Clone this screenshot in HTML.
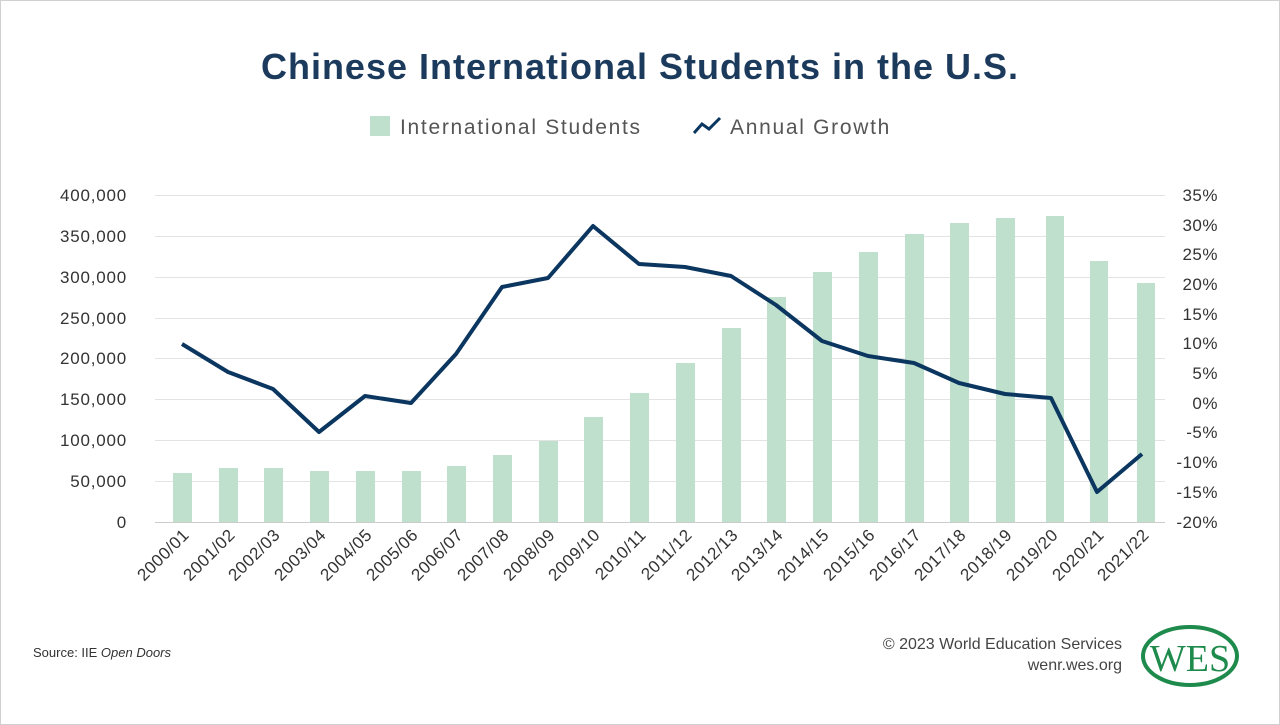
<!DOCTYPE html>
<html><head><meta charset="utf-8"><style>
body{margin:0;background:#fff;}
svg{display:block;font-family:"Liberation Sans",sans-serif;}
</style></head><body>
<svg width="1280" height="725" viewBox="0 0 1280 725">
<rect x="0.5" y="0.5" width="1279" height="724" fill="#fff" stroke="#d0d0d0"/>
<text x="640" y="79" text-anchor="middle" font-size="36" font-weight="bold" fill="#1b3a5c" letter-spacing="1">Chinese International Students in the U.S.</text>
<rect x="370" y="116" width="20" height="20" fill="#bfe0cc"/>
<text x="400" y="134" font-size="21" fill="#555" letter-spacing="1.7">International Students</text>
<polyline points="694,133 702,124 709,129 720,118" fill="none" stroke="#0b3660" stroke-width="3"/>
<text x="730" y="134" font-size="21" fill="#555" letter-spacing="1.7">Annual Growth</text>
<g stroke="#e3e3e3" stroke-width="1">
<line x1="155" x2="1165" y1="195.5" y2="195.5"/><line x1="155" x2="1165" y1="236.5" y2="236.5"/>
<line x1="155" x2="1165" y1="277.5" y2="277.5"/><line x1="155" x2="1165" y1="318.5" y2="318.5"/>
<line x1="155" x2="1165" y1="358.5" y2="358.5"/><line x1="155" x2="1165" y1="399.5" y2="399.5"/>
<line x1="155" x2="1165" y1="440.5" y2="440.5"/><line x1="155" x2="1165" y1="481.5" y2="481.5"/>
<line x1="155" x2="1165" y1="522.5" y2="522.5" stroke="#ccc"/>
</g>
<g font-size="17" fill="#333" text-anchor="end" letter-spacing="0.8">
<text x="127" y="201">400,000</text><text x="127" y="242">350,000</text><text x="127" y="283">300,000</text>
<text x="127" y="324">250,000</text><text x="127" y="364">200,000</text><text x="127" y="405">150,000</text>
<text x="127" y="446">100,000</text><text x="127" y="487">50,000</text><text x="127" y="528">0</text>
</g>
<g font-size="17" fill="#333" text-anchor="end" letter-spacing="0.5">
<text x="1218" y="201">35%</text><text x="1218" y="231">30%</text><text x="1218" y="260">25%</text>
<text x="1218" y="290">20%</text><text x="1218" y="320">15%</text><text x="1218" y="349">10%</text>
<text x="1218" y="379">5%</text><text x="1218" y="409">0%</text><text x="1218" y="438">-5%</text>
<text x="1218" y="468">-10%</text><text x="1218" y="498">-15%</text><text x="1218" y="528">-20%</text>
</g>
<g fill="#bfe0cc">
<rect x="173" y="473" width="19" height="49"/><rect x="219" y="468" width="19" height="54"/>
<rect x="264" y="468" width="19" height="54"/><rect x="310" y="471" width="19" height="51"/>
<rect x="356" y="471" width="19" height="51"/><rect x="402" y="471" width="19" height="51"/>
<rect x="447" y="466" width="19" height="56"/><rect x="493" y="455" width="19" height="67"/>
<rect x="539" y="441" width="19" height="81"/><rect x="584" y="417" width="19" height="105"/>
<rect x="630" y="393" width="19" height="129"/><rect x="676" y="363" width="19" height="159"/>
<rect x="722" y="328" width="19" height="194"/><rect x="767" y="297" width="19" height="225"/>
<rect x="813" y="272" width="19" height="250"/><rect x="859" y="252" width="19" height="270"/>
<rect x="905" y="234" width="19" height="288"/><rect x="950" y="223" width="19" height="299"/>
<rect x="996" y="218" width="19" height="304"/><rect x="1046" y="216" width="18" height="306"/>
<rect x="1090" y="261" width="18" height="261"/><rect x="1137" y="283" width="18" height="239"/>
</g>
<polyline fill="none" stroke="#0b3660" stroke-width="4" stroke-linejoin="round" points="182,344 228,372 273,389 319,432 365,396 411,403 456,354 502,287 548,278 593,226 639,264 685,267 731,276 776,305 822,341 868,356 914,363 959,383 1005,394 1051,398 1097,492 1142,454"/>
<g font-size="17" fill="#333" text-anchor="end" letter-spacing="0.5">
<text transform="translate(190,536) rotate(-45)">2000/01</text>
<text transform="translate(236,536) rotate(-45)">2001/02</text>
<text transform="translate(281,536) rotate(-45)">2002/03</text>
<text transform="translate(327,536) rotate(-45)">2003/04</text>
<text transform="translate(373,536) rotate(-45)">2004/05</text>
<text transform="translate(419,536) rotate(-45)">2005/06</text>
<text transform="translate(464,536) rotate(-45)">2006/07</text>
<text transform="translate(510,536) rotate(-45)">2007/08</text>
<text transform="translate(556,536) rotate(-45)">2008/09</text>
<text transform="translate(601,536) rotate(-45)">2009/10</text>
<text transform="translate(647,536) rotate(-45)">2010/11</text>
<text transform="translate(693,536) rotate(-45)">2011/12</text>
<text transform="translate(739,536) rotate(-45)">2012/13</text>
<text transform="translate(784,536) rotate(-45)">2013/14</text>
<text transform="translate(830,536) rotate(-45)">2014/15</text>
<text transform="translate(876,536) rotate(-45)">2015/16</text>
<text transform="translate(922,536) rotate(-45)">2016/17</text>
<text transform="translate(967,536) rotate(-45)">2017/18</text>
<text transform="translate(1013,536) rotate(-45)">2018/19</text>
<text transform="translate(1059,536) rotate(-45)">2019/20</text>
<text transform="translate(1105,536) rotate(-45)">2020/21</text>
<text transform="translate(1150,536) rotate(-45)">2021/22</text>
</g>
<text x="33" y="657" font-size="13" fill="#333">Source: IIE <tspan font-style="italic">Open Doors</tspan></text>
<text x="1122" y="649" font-size="16" fill="#444" text-anchor="end">© 2023 World Education Services</text>
<text x="1122" y="670" font-size="16" fill="#444" text-anchor="end">wenr.wes.org</text>
<ellipse cx="1190" cy="656" rx="47" ry="29" fill="#fff" stroke="#1e8a4c" stroke-width="4"/>
<text x="1190" y="671" font-family="Liberation Serif,serif" font-size="38" fill="#1e8a4c" text-anchor="middle">WES</text>
</svg>
</body></html>
